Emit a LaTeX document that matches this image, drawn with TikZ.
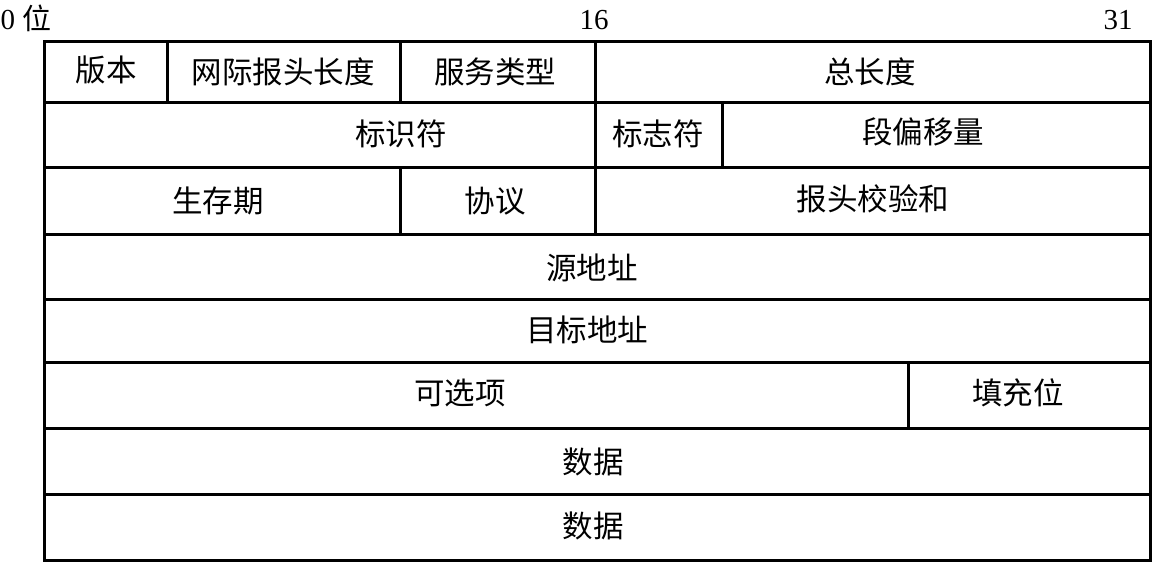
\documentclass[tikz,border=0pt]{standalone}
\usepackage{fontspec}
\setmainfont{Liberation Serif}
\newfontfamily\cjk{Noto Sans CJK SC}
\begin{document}
\begin{tikzpicture}[x=1pt,y=-1pt,
  grid/.style={draw, line width=3pt, line cap=rect},
  lbl/.style={font=\cjk\fontsize{30.5}{32}\selectfont, inner sep=0pt, anchor=center},
  num/.style={font=\fontsize{29}{30}\selectfont, inner sep=0pt, anchor=center}]
\useasboundingbox (0,0) rectangle (1154,562);
% grid
\draw[grid] (44.5,41.5) rectangle (1150,560);
\foreach \y in {102,167,234,299,362,428,494}
  \draw[grid] (44.5,\y) -- (1150,\y);
\draw[grid] (167,41.5) -- (167,102);
\draw[grid] (400,41.5) -- (400,102);
\draw[grid] (400,167) -- (400,234);
\draw[grid] (595,41.5) -- (595,234);
\draw[grid] (722,102) -- (722,167);
\draw[grid] (908,362) -- (908,428);
% bit labels
\node[num] (b0) at (26,18) {0 {\cjk 位}};
\node[num] (b16) at (594,20) {16};
\node[num] (b31) at (1118,20) {31};
% row 1
\node[lbl] (ver) at (106,70) {版本};
\node[lbl] (ihl) at (283,72) {网际报头长度};
\node[lbl] (tos) at (495,72) {服务类型};
\node[lbl] (len) at (870,72) {总长度};
% row 2
\node[lbl] (id) at (401,134) {标识符};
\node[lbl] (flag) at (658,134) {标志符};
\node[lbl] (off) at (923,132) {段偏移量};
% row 3
\node[lbl] (ttl) at (218,201) {生存期};
\node[lbl] (proto) at (495,201) {协议};
\node[lbl] (csum) at (873,199) {报头校验和};
% rows 4-8
\node[lbl] (src) at (592,268) {源地址};
\node[lbl] (dst) at (587,330) {目标地址};
\node[lbl] (opt) at (460,393) {可选项};
\node[lbl] (pad) at (1018,393) {填充位};
\node[lbl] (data1) at (593,462) {数据};
\node[lbl] (data2) at (593,526) {数据};
\end{tikzpicture}
\end{document}
